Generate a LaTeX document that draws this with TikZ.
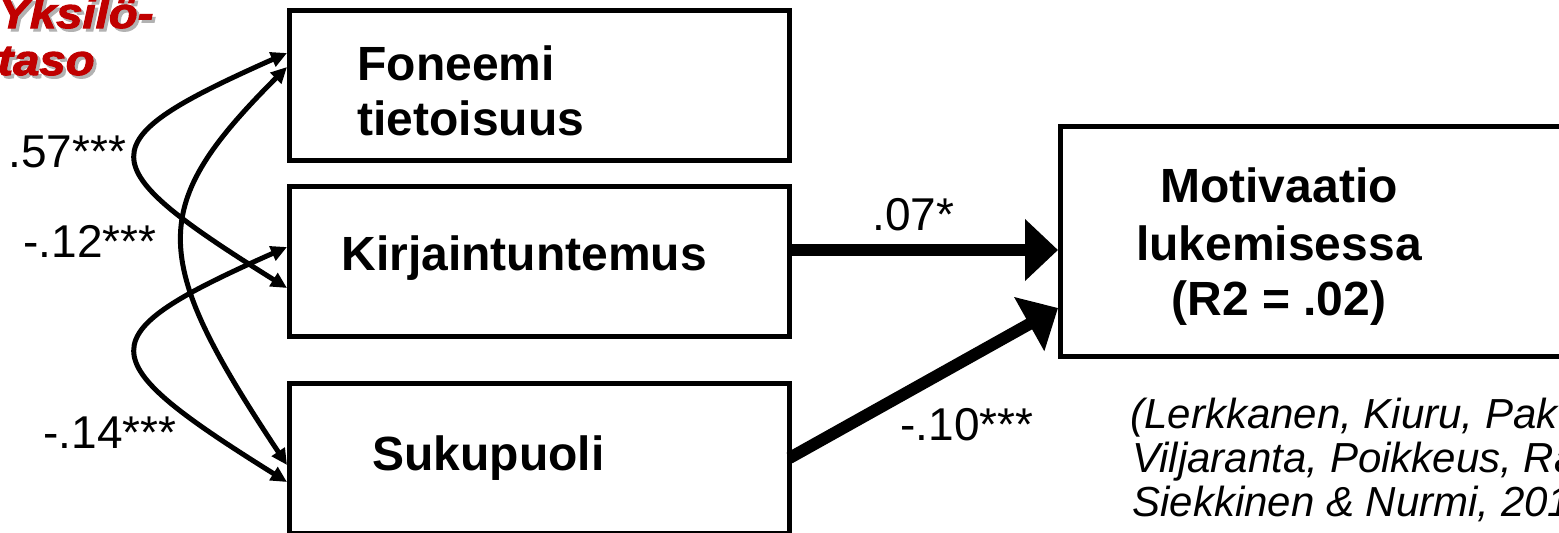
\documentclass[tikz,border=0pt]{standalone}
\usepackage{fontspec}
\setmainfont{Liberation Sans}
\newfontfamily\yfont[FakeBold=2.5,FakeStretch=1.1,ItalicFont={Liberation Sans Bold Italic},BoldItalicFont={Liberation Sans Bold Italic}]{Liberation Sans}
\usetikzlibrary{arrows.meta,calc}
\definecolor{yred}{HTML}{C00000}
\begin{document}
\begin{tikzpicture}[x=0.5pt,y=-0.5pt,
  box/.style={draw, line width=2.5pt, minimum width=250pt, minimum height=75pt, inner sep=0pt, outer sep=0pt},
  bt/.style={font=\fontsize{24}{28}\selectfont\bfseries, inner sep=0pt},
  lab/.style={font=\fontsize{23}{28}\selectfont, inner sep=0pt, anchor=base west},
  cite/.style={font=\fontsize{21}{26}\selectfont\itshape, inner sep=0pt, anchor=base west},
  ytext/.style={font=\yfont\fontsize{21.5}{26}\selectfont\itshape, inner sep=0pt, anchor=base west},
  cor/.style={line width=2.5pt, {Triangle[length=8pt,width=7.5pt]}-{Triangle[length=8pt,width=7.5pt]}},
  bigarrow/.style={line width=6pt, -{Triangle[length=16.5pt,width=30pt]}}
]
\useasboundingbox (0,0) rectangle (1559,532);
\clip (0,0) rectangle (1559,532);

% boxes
\node[box] (fon) at (539.5,85) {};
\node[box] (kir) at (539.5,261) {};
\node[box] (suk) at (539.5,458) {};
\node[box, minimum width=270pt, minimum height=115pt] (mot) at (1330,241) {};

% box texts
\node[bt, anchor=base west] (fon1) at (357,80) {Foneemi};
\node[bt, anchor=base west] (fon2) at (357,135) {tietoisuus};
\node[bt, anchor=base west] (kirt) at (341,270) {Kirjaintuntemus};
\node[bt, anchor=base west] (sukt) at (372,470) {Sukupuoli};
\node[bt, anchor=base] (mot1) at (1279,202) {Motivaatio};
\node[bt, anchor=base] (mot2) at (1279,260) {lukemisessa};
\node[bt, anchor=base] (mot3) at (1279,315) {(R2 = .02)};

% heading
\node[ytext, text=black!30] (ys1) at (1,31) {Yksilö-};
\node[ytext, text=black!30] (ys2) at (0,78) {taso};
\node[ytext, text=yred] (y1) at (-2,28) {Yksilö-};
\node[ytext, text=yred] (y2) at (-3,75) {taso};

% correlations
\draw[cor] ($(fon.west)+(-2.5,-32)$) .. controls ($(fon.west)+(-202.5,57)$) and ($(kir.west)+(-202.5,-98)$) .. ($(kir.west)+(-2.5,27)$);
\draw[cor] ($(kir.west)+(-2.5,-14)$) .. controls ($(kir.west)+(-202.5,75)$) and ($(suk.west)+(-202.5,-101)$) .. ($(suk.west)+(-2.5,24)$);
\draw[cor] ($(fon.west)+(-2.5,-18)$) .. controls ($(fon.west)+(-141.5,121)$) and ($(suk.west)+(-141.5,-202)$) .. ($(suk.west)+(-2.5,7)$);

% paths
\draw[bigarrow] ($(kir.east)+(0,-11)$) -- ($(mot.west)+(-2,9)$);
\draw[bigarrow] (suk.east) -- ($(mot.west)+(-2,67)$);

% labels
\node[lab] (l57) at (8,167) {.57***};
\node[lab] (l12) at (23,257) {-.12***};
\node[lab] (l14) at (43,448) {-.14***};
\node[lab] (l07) at (872,230) {.07*};
\node[lab] (l10) at (900,440) {-.10***};

% citation
\node[cite] (c1) at (1130,428) {(Lerkkanen, Kiuru, Pak};
\node[cite] (c2) at (1132,472) {Viljaranta, Poikkeus, Ra};
\node[cite] (c3) at (1132,516) {Siekkinen \& Nurmi, 201};
\end{tikzpicture}
\end{document}
